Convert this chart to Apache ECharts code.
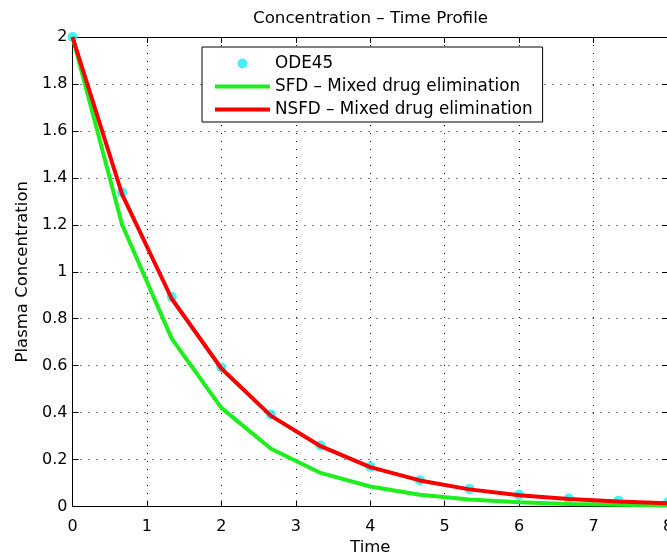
<!DOCTYPE html>
<html>
<head>
<meta charset="utf-8">
<script src="https://cdn.jsdelivr.net/npm/echarts@6/dist/echarts.min.js"></script>
<style>html,body{margin:0;padding:0;background:#fff;}#c{width:667px;height:555px;}</style>
</head>
<body>
<div id="c"></div>
<script>
const time = [0, 0.6667, 1.3333, 2, 2.6667, 3.3333, 4, 4.6667, 5.3333, 6, 6.6667, 7.3333, 8];
const ode45 = [2, 1.338, 0.893, 0.592, 0.392, 0.26, 0.17, 0.112, 0.075, 0.05, 0.034, 0.025, 0.018];
const sfd = [2, 1.2, 0.715, 0.42, 0.246, 0.143, 0.085, 0.05, 0.03, 0.018, 0.011, 0.007, 0.004];
const nsfd = [2, 1.33, 0.885, 0.588, 0.386, 0.257, 0.168, 0.111, 0.073, 0.048, 0.032, 0.021, 0.014];
const seriesNames = ['ODE45', 'SFD – Mixed drug elimination', 'NSFD – Mixed drug elimination'];

const FONT = 'DejaVu Sans';
const pairs = (ys) => time.map((t, i) => [t, ys[i]]);
const chart = echarts.init(document.getElementById('c'), null, {renderer: 'canvas'});
const tickStyle = {inside: true, length: 6, lineStyle: {color: '#000', width: 1}};
const axisLine = {show: true, onZero: false, lineStyle: {color: '#000', width: 1}};
const dotted = {show: true, lineStyle: {color: '#000', width: 1, type: [1, 7]}};

chart.setOption({
  animation: false,
  backgroundColor: '#fff',
  textStyle: {fontFamily: FONT},
  title: {
    text: 'Concentration – Time Profile',
    left: 253, top: 10.5, padding: 0,
    textStyle: {fontFamily: FONT, fontSize: 16.7, fontWeight: 'normal', color: '#000'}
  },
  grid: {left: 72.5, right: -1, top: 37, bottom: 48.5, containLabel: false, outerBoundsMode: 'none'},
  legend: {
    orient: 'vertical',
    left: 202, top: 47,
    padding: [8, 10, 4, 11],
    itemWidth: 55, itemHeight: 10, itemGap: 6,
    backgroundColor: '#fff',
    borderColor: '#000', borderWidth: 1,
    textStyle: {fontFamily: FONT, fontSize: 16.8, color: '#000'},
    data: [
      {name: seriesNames[0]},
      {name: seriesNames[1], itemStyle: {opacity: 0}, lineStyle: {width: 4, color: '#1cf01c'}},
      {name: seriesNames[2], itemStyle: {opacity: 0}, lineStyle: {width: 4, color: '#f80000'}}
    ]
  },
  xAxis: [{
    type: 'value', min: 0, max: 8, interval: 1,
    name: 'Time', nameLocation: 'middle', nameGap: 28,
    nameTextStyle: {fontFamily: FONT, fontSize: 16.5, color: '#000'},
    axisLine: axisLine, axisTick: tickStyle,
    axisLabel: {fontFamily: FONT, fontSize: 16, color: '#000', margin: 12},
    splitLine: dotted
  }, {
    type: 'value', min: 0, max: 8, interval: 1, position: 'top',
    axisLine: axisLine, axisTick: tickStyle, axisLabel: {show: false}, splitLine: {show: false}
  }],
  yAxis: [{
    type: 'value', min: 0, max: 2, interval: 0.2,
    name: 'Plasma Concentration', nameLocation: 'middle', nameGap: 41,
    nameTextStyle: {fontFamily: FONT, fontSize: 16.5, color: '#000'},
    axisLine: axisLine, axisTick: tickStyle,
    axisLabel: {fontFamily: FONT, fontSize: 16, color: '#000', margin: 5},
    splitLine: dotted
  }, {
    type: 'value', min: 0, max: 2, interval: 0.2, position: 'right',
    axisLine: axisLine, axisTick: tickStyle, axisLabel: {show: false}, splitLine: {show: false}
  }],
  series: [{
    name: seriesNames[0], type: 'scatter', data: pairs(ode45),
    symbol: 'circle', symbolSize: 10,
    itemStyle: {color: '#14eef4'}, z: 2
  }, {
    name: seriesNames[1], type: 'line', data: pairs(sfd),
    symbol: 'none', showSymbol: false,
    lineStyle: {color: '#1cf01c', width: 4}, itemStyle: {color: '#1cf01c'}, z: 3
  }, {
    name: seriesNames[2], type: 'line', data: pairs(nsfd),
    symbol: 'none', showSymbol: false,
    lineStyle: {color: '#f80000', width: 4}, itemStyle: {color: '#f80000'}, z: 4
  }]
});
</script>
</body>
</html>
